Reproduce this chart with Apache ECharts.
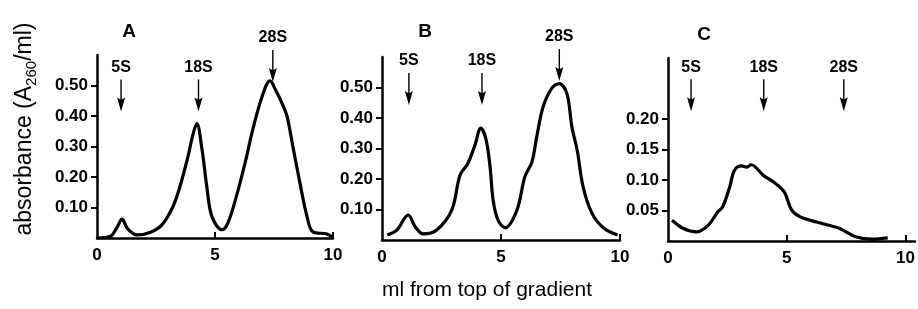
<!DOCTYPE html>
<html>
<head>
<meta charset="utf-8">
<script src="https://cdn.jsdelivr.net/npm/echarts@6/dist/echarts.min.js"></script>
<style>
html, body { margin: 0; background: #fff; }
#main { width: 918px; height: 309px; }
</style>
</head>
<body>
<div id="main"></div>
<script>
// gradient profiles (ml from top, A260/ml)
var a_ml  = [0, 0.55, 0.85, 1.06, 1.3, 1.7, 2.3, 2.75, 3.2, 3.5, 3.85, 4.05, 4.23, 4.45, 4.65, 4.87, 5.3, 5.55, 5.9, 6.27, 6.6, 6.98, 7.33, 7.6, 7.85, 8.05, 8.3, 8.6, 8.9, 9.15, 9.75, 10];
var a_abs = [0, 0.005, 0.035, 0.062, 0.03, 0.01, 0.02, 0.043, 0.10, 0.165, 0.265, 0.335, 0.375, 0.29, 0.17, 0.07, 0.027, 0.05, 0.135, 0.245, 0.355, 0.46, 0.515, 0.48, 0.44, 0.40, 0.30, 0.18, 0.07, 0.02, 0.013, 0.0];

var b_ml  = [0.22, 0.63, 1.1, 1.4, 1.73, 2.3, 2.93, 3.28, 3.6, 3.9, 4.15, 4.37, 4.54, 4.67, 4.87, 5.17, 5.67, 6.0, 6.3, 6.5, 6.77, 7.14, 7.45, 7.77, 7.98, 8.2, 8.45, 8.82, 9.3, 9.9];
var b_abs = [0.016, 0.033, 0.082, 0.043, 0.02, 0.033, 0.098, 0.213, 0.25, 0.31, 0.367, 0.33, 0.24, 0.13, 0.066, 0.04, 0.098, 0.207, 0.256, 0.338, 0.437, 0.498, 0.513, 0.48, 0.37, 0.295, 0.174, 0.088, 0.04, 0.016];

var c_ml  = [0.17, 0.63, 1.2, 1.7, 2.1, 2.3, 2.6, 2.8, 3.1, 3.3, 3.5, 4.0, 4.5, 4.9, 5.2, 5.55, 6.25, 7.2, 7.9, 8.6, 9.25];
var c_abs = [0.034, 0.021, 0.015, 0.026, 0.048, 0.056, 0.089, 0.116, 0.123, 0.121, 0.125, 0.108, 0.095, 0.08, 0.051, 0.04, 0.031, 0.021, 0.007, 0.003, 0.005];

// sedimentation markers
var markers = ['5S', '18S', '28S'];
var a_mark_ml = [1.02, 4.3, 7.45], a_mark_abs = [0.467, 0.467, 0.564];
var b_mark_ml = [1.13, 4.2, 7.45], b_mark_abs = [0.495, 0.495, 0.574];
var c_mark_ml = [0.97, 4.03, 7.4], c_mark_abs = [0.239, 0.239, 0.239];

var panels = ['A', 'B', 'C'];
var x_labels = [0, 5, 10];
var y_labels_ab = [0.1, 0.2, 0.3, 0.4, 0.5];
var y_labels_c = [0.05, 0.1, 0.15, 0.2];

var FONT = 'Liberation Sans';
var arrow = 'path://M3.3,0 L4.7,0 L4.7,20 L8,18 L4,32 L0,18 L3.3,20 Z';

function pairs(xs, ys) {
  return xs.map(function(x, i) { return [x, ys[i]]; });
}
function marks(xs, ys) {
  return xs.map(function(x, i) { return { name: markers[i], value: [x, ys[i]] }; });
}

function xAxis(idx, max) {
  return {
    type: 'value', gridIndex: idx, min: 0, max: max,
    axisLine: { lineStyle: { color: '#000', width: 2.5 } },
    axisTick: { inside: true, length: 6, customValues: [5, 10], lineStyle: { color: '#000', width: 2 } },
    axisLabel: { customValues: x_labels, color: '#000', fontSize: 17, fontWeight: 'bold', fontFamily: FONT, margin: 9 },
    splitLine: { show: false }
  };
}
function yAxis(idx, max, labels) {
  return {
    type: 'value', gridIndex: idx, min: 0, max: max,
    axisLine: { show: true, lineStyle: { color: '#000', width: 2.5 } },
    axisTick: { show: true, length: 6, customValues: labels, lineStyle: { color: '#000', width: 2 } },
    axisLabel: { customValues: labels, color: '#000', fontSize: 17, fontWeight: 'bold', fontFamily: FONT, margin: 9,
      formatter: function(v) { return v.toFixed(2); } },
    splitLine: { show: false }
  };
}
function curve(idx, xs, ys) {
  return {
    type: 'line', xAxisIndex: idx, yAxisIndex: idx, data: pairs(xs, ys),
    smooth: 0.35, showSymbol: false, silent: true,
    lineStyle: { color: '#000', width: 3.2 }
  };
}
function arrows(idx, xs, ys) {
  return {
    type: 'scatter', xAxisIndex: idx, yAxisIndex: idx, data: marks(xs, ys),
    symbol: arrow, symbolSize: [8, 32], silent: true,
    itemStyle: { color: '#000', opacity: 1 },
    label: { show: true, position: 'top', distance: 4, formatter: '{b}', color: '#000',
      fontSize: 16, fontWeight: 'bold', fontFamily: FONT }
  };
}

var chart = echarts.init(document.getElementById('main'));
chart.setOption({
  backgroundColor: '#fff',
  animation: false,
  grid: [
    { left: 97, top: 55, width: 236, height: 183 },
    { left: 382, top: 57, width: 238, height: 183 },
    { left: 668, top: 58, width: 247.5, height: 183 }
  ],
  xAxis: [xAxis(0, 10), xAxis(1, 10), xAxis(2, 10.4)],
  yAxis: [yAxis(0, 0.6, y_labels_ab), yAxis(1, 0.6, y_labels_ab), yAxis(2, 0.3, y_labels_c)],
  series: [
    curve(0, a_ml, a_abs), curve(1, b_ml, b_abs), curve(2, c_ml, c_abs),
    arrows(0, a_mark_ml, a_mark_abs), arrows(1, b_mark_ml, b_mark_abs), arrows(2, c_mark_ml, c_mark_abs)
  ],
  graphic: [
    { type: 'text', x: 129, y: 32, style: { text: panels[0], fontSize: 19, fontWeight: 'bold', fontFamily: FONT, fill: '#000', align: 'center', verticalAlign: 'middle' } },
    { type: 'text', x: 425, y: 32, style: { text: panels[1], fontSize: 19, fontWeight: 'bold', fontFamily: FONT, fill: '#000', align: 'center', verticalAlign: 'middle' } },
    { type: 'text', x: 704, y: 35, style: { text: panels[2], fontSize: 19, fontWeight: 'bold', fontFamily: FONT, fill: '#000', align: 'center', verticalAlign: 'middle' } },
    { type: 'text', x: 487, y: 290, style: { text: 'ml from top of gradient', fontSize: 21, fontFamily: FONT, fill: '#000', align: 'center', verticalAlign: 'middle' } },
    { type: 'text', x: 25, y: 129, rotation: Math.PI / 2,
      style: { text: 'absorbance (A{s|260}/ml)', fontSize: 23, fontFamily: FONT, fill: '#000',
        align: 'center', verticalAlign: 'middle', lineHeight: 28,
        rich: { s: { fontSize: 15, fontFamily: FONT, fill: '#000', verticalAlign: 'bottom', lineHeight: 28 } } } }
  ]
});
</script>
</body>
</html>
